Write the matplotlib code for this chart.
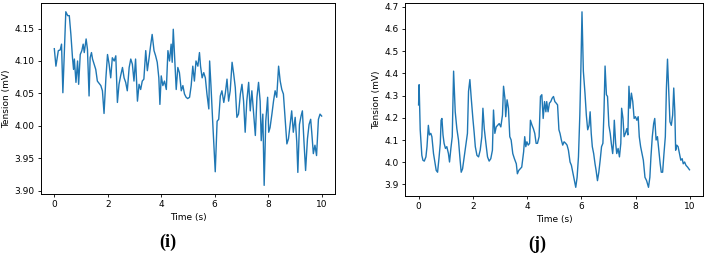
import matplotlib.pyplot as plt

# panel (i)
time_i = [0.00, 0.06, 0.15, 0.22, 0.27, 0.32, 0.43, 0.50, 0.56, 0.62, 0.68, 0.72, 0.75, 0.81, 0.87, 0.91,
          0.97, 1.03, 1.08, 1.12, 1.19, 1.24, 1.30, 1.34, 1.39, 1.43, 1.49, 1.55, 1.61, 1.74, 1.80, 1.86,
          1.93, 1.99, 2.05, 2.11, 2.17, 2.24, 2.30, 2.36, 2.42, 2.48, 2.55, 2.61, 2.67, 2.73, 2.80, 2.86,
          2.92, 2.98, 3.04, 3.11, 3.17, 3.23, 3.29, 3.35, 3.42, 3.48, 3.54, 3.60, 3.66, 3.73, 3.79, 3.85,
          3.91, 3.95, 4.00, 4.06, 4.12, 4.19, 4.25, 4.31, 4.37, 4.41, 4.45, 4.51, 4.56, 4.62, 4.68, 4.75,
          4.81, 4.87, 4.93, 4.99, 5.06, 5.12, 5.18, 5.24, 5.30, 5.37, 5.43, 5.47, 5.53, 5.59, 5.65, 5.71,
          5.78, 5.81, 5.86, 5.93, 6.02, 6.09, 6.15, 6.21, 6.27, 6.34, 6.40, 6.46, 6.52, 6.58, 6.65, 6.71,
          6.77, 6.83, 6.89, 6.96, 7.02, 7.08, 7.14, 7.20, 7.27, 7.33, 7.39, 7.45, 7.52, 7.58, 7.64, 7.70,
          7.74, 7.80, 7.85, 7.91, 7.98, 8.02, 8.07, 8.14, 8.20, 8.26, 8.32, 8.39, 8.45, 8.51, 8.57, 8.63,
          8.70, 8.76, 8.82, 8.88, 8.94, 9.01, 9.07, 9.11, 9.17, 9.23, 9.28, 9.34, 9.40, 9.47, 9.53, 9.59,
          9.63, 9.69, 9.75, 9.81, 9.88, 9.94, 10.00]
tension_i = [4.119, 4.092, 4.116, 4.117, 4.126, 4.051, 4.176, 4.170, 4.170, 4.141, 4.105, 4.087, 4.103,
             4.067, 4.100, 4.064, 4.110, 4.116, 4.126, 4.113, 4.134, 4.118, 4.046, 4.105, 4.113, 4.103,
             4.095, 4.087, 4.069, 4.062, 4.054, 4.019, 4.074, 4.110, 4.095, 4.074, 4.105, 4.100, 4.108,
             4.036, 4.064, 4.077, 4.090, 4.074, 4.067, 4.054, 4.090, 4.103, 4.095, 4.069, 4.103, 4.038,
             4.064, 4.056, 4.069, 4.072, 4.116, 4.085, 4.103, 4.123, 4.141, 4.116, 4.108, 4.098, 4.074,
             4.033, 4.077, 4.062, 4.069, 4.056, 4.116, 4.100, 4.126, 4.098, 4.149, 4.100, 4.056, 4.090,
             4.082, 4.054, 4.062, 4.049, 4.044, 4.042, 4.044, 4.062, 4.092, 4.069, 4.100, 4.092, 4.113,
             4.092, 4.074, 4.082, 4.074, 4.049, 4.026, 4.100, 4.062, 4.002, 3.929, 4.007, 4.010, 4.046,
             4.054, 4.036, 4.051, 4.072, 4.038, 4.054, 4.098, 4.080, 4.059, 4.013, 4.018, 4.049, 4.064,
             4.038, 3.990, 4.038, 4.067, 4.023, 4.054, 4.023, 3.985, 4.044, 4.067, 4.038, 3.977, 4.018,
             3.908, 4.007, 4.044, 3.990, 3.997, 4.018, 4.038, 4.054, 4.044, 4.092, 4.069, 4.056, 4.049,
             4.013, 3.972, 3.980, 4.002, 4.023, 3.990, 4.013, 3.975, 3.928, 4.002, 4.015, 4.023, 3.975,
             3.931, 3.980, 4.002, 4.010, 3.990, 3.957, 3.970, 3.954, 4.010, 4.018, 4.015]

# panel (j)
time_j = [0.00, 0.02, 0.06, 0.12, 0.16, 0.21, 0.27, 0.31, 0.36, 0.40, 0.45, 0.49, 0.55, 0.61, 0.65, 0.70,
          0.75, 0.80, 0.83, 0.86, 0.90, 0.94, 0.99, 1.04, 1.10, 1.14, 1.19, 1.24, 1.29, 1.35, 1.41, 1.47,
          1.53, 1.57, 1.62, 1.68, 1.74, 1.80, 1.84, 1.89, 1.94, 2.00, 2.05, 2.09, 2.15, 2.21, 2.27, 2.33,
          2.37, 2.42, 2.48, 2.54, 2.60, 2.66, 2.72, 2.76, 2.81, 2.86, 2.91, 2.97, 3.03, 3.09, 3.13, 3.18,
          3.21, 3.26, 3.31, 3.36, 3.41, 3.47, 3.53, 3.60, 3.64, 3.69, 3.74, 3.80, 3.87, 3.91, 3.95, 3.99,
          4.04, 4.09, 4.12, 4.18, 4.23, 4.28, 4.33, 4.38, 4.44, 4.49, 4.54, 4.59, 4.64, 4.69, 4.72, 4.77,
          4.82, 4.87, 4.92, 4.97, 5.02, 5.07, 5.12, 5.17, 5.21, 5.26, 5.31, 5.36, 5.42, 5.47, 5.52, 5.58,
          5.63, 5.68, 5.74, 5.79, 5.84, 5.89, 5.94, 5.98, 6.02, 6.07, 6.13, 6.18, 6.23, 6.28, 6.32, 6.36,
          6.40, 6.45, 6.50, 6.54, 6.59, 6.64, 6.69, 6.74, 6.79, 6.83, 6.87, 6.92, 6.96, 7.01, 7.06, 7.10,
          7.15, 7.18, 7.21, 7.26, 7.30, 7.35, 7.40, 7.45, 7.48, 7.53, 7.57, 7.62, 7.67, 7.71, 7.75, 7.79,
          7.84, 7.89, 7.94, 7.99, 8.04, 8.09, 8.13, 8.18, 8.23, 8.28, 8.34, 8.40, 8.47, 8.52, 8.56, 8.61,
          8.66, 8.70, 8.75, 8.80, 8.85, 8.90, 8.94, 8.99, 9.04, 9.09, 9.13, 9.17, 9.21, 9.26, 9.31, 9.36,
          9.40, 9.44, 9.47, 9.51, 9.56, 9.61, 9.66, 9.71, 9.75, 9.80, 9.85, 9.91, 9.98]
tension_j = [4.258, 4.349, 4.146, 4.031, 4.009, 4.005, 4.024, 4.070, 4.166, 4.123, 4.130, 4.115, 4.039,
             3.993, 3.963, 3.955, 4.016, 4.085, 4.189, 4.197, 4.123, 4.085, 4.062, 4.070, 4.039, 4.001,
             4.062, 4.115, 4.410, 4.227, 4.151, 4.100, 4.009, 3.955, 3.970, 4.024, 4.077, 4.130, 4.319,
             4.372, 4.288, 4.197, 4.130, 4.070, 4.031, 4.024, 4.054, 4.115, 4.243, 4.151, 4.085, 4.024,
             4.005, 4.016, 4.054, 4.235, 4.130, 4.159, 4.166, 4.174, 4.159, 4.212, 4.342, 4.288, 4.205,
             4.281, 4.243, 4.115, 4.100, 4.039, 4.016, 3.993, 3.948, 3.963, 3.970, 3.978, 4.047, 4.115,
             4.070, 4.092, 4.077, 4.085, 4.189, 4.166, 4.151, 4.130, 4.085, 4.085, 4.115, 4.296, 4.304,
             4.197, 4.273, 4.227, 4.273, 4.227, 4.266, 4.273, 4.288, 4.296, 4.273, 4.266, 4.258, 4.146,
             4.130, 4.100, 4.077, 4.092, 4.085, 4.077, 4.054, 4.001, 3.986, 3.955, 3.917, 3.887, 3.932,
             4.024, 4.212, 4.426, 4.677, 4.410, 4.311, 4.212, 4.146, 4.166, 4.227, 4.130, 4.070, 4.039,
             3.993, 3.963, 3.917, 3.955, 4.009, 4.070, 4.085, 4.227, 4.433, 4.304, 4.296, 4.166, 4.130,
             4.085, 4.039, 4.085, 4.189, 4.085, 4.039, 4.062, 4.024, 4.085, 4.243, 4.197, 4.115, 4.130,
             4.151, 4.123, 4.342, 4.243, 4.311, 4.273, 4.197, 4.205, 4.189, 4.205, 4.115, 4.070, 4.039,
             4.009, 3.932, 3.917, 3.887, 3.932, 4.024, 4.115, 4.174, 4.197, 4.100, 4.115, 4.054, 3.993,
             3.955, 3.955, 4.039, 4.115, 4.334, 4.464, 4.334, 4.182, 4.166, 4.212, 4.334, 4.227, 4.054,
             4.077, 4.070, 4.039, 4.009, 4.016, 3.993, 4.001, 3.986, 3.978, 3.966]

panel_labels = ['(i)', '(j)']

plt.rcParams['font.size'] = 6.5
plt.rcParams['xtick.major.size'] = 2.3
plt.rcParams['ytick.major.size'] = 2.3
plt.rcParams['xtick.major.width'] = 0.6
plt.rcParams['ytick.major.width'] = 0.6
plt.rcParams['xtick.major.pad'] = 2.3
plt.rcParams['ytick.major.pad'] = 2.3
plt.rcParams['axes.linewidth'] = 0.7
plt.rcParams['axes.labelpad'] = 2.6

fig = plt.figure(figsize=(7.06, 2.56), dpi=100)

ax1 = fig.add_axes([0.058, 0.242, 0.4165, 0.746])
ax1.plot(time_i, tension_i, color='#1f77b4', linewidth=1.0)
ax1.set_xlabel('Time (s)')
ax1.set_ylabel('Tension (mV)')
ax1.set_xticks([0, 2, 4, 6, 8, 10])
ax1.set_yticks([3.90, 3.95, 4.00, 4.05, 4.10, 4.15])

ax2 = fig.add_axes([0.5737, 0.234, 0.4221, 0.754])
ax2.plot(time_j, tension_j, color='#1f77b4', linewidth=1.0)
ax2.set_xlabel('Time (s)')
ax2.set_ylabel('Tension (mV)')
ax2.set_xticks([0, 2, 4, 6, 8, 10])
ax2.set_yticks([3.9, 4.0, 4.1, 4.2, 4.3, 4.4, 4.5, 4.6, 4.7])

fig.text(168 / 706, 1 - 242 / 256, panel_labels[0], family='Liberation Serif', weight='bold',
         fontsize=13, ha='center', va='center')
fig.text(537 / 706, 1 - 244 / 256, panel_labels[1], family='Liberation Serif', weight='bold',
         fontsize=13, ha='center', va='center')

plt.savefig('out.png', dpi=100)
